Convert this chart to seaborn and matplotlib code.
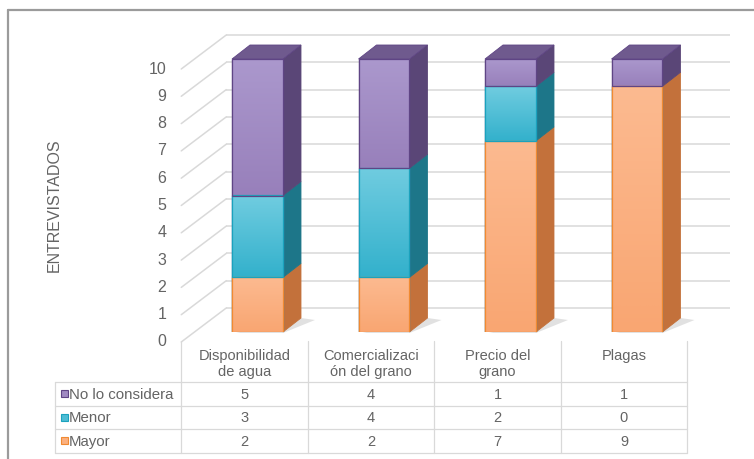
import numpy as np
import pandas as pd
import matplotlib
matplotlib.use("Agg")
import matplotlib.pyplot as plt
from matplotlib.patches import Polygon, Rectangle
from matplotlib.colors import LinearSegmentedColormap
import seaborn as sns

# ---------------- data ----------------
categories = ["Disponibilidad de agua", "Comercialización del grano", "Precio del grano", "Plagas"]
header_labels = ["Disponibilidad\nde agua", "Comercializaci\nón del grano", "Precio del\ngrano", "Plagas"]
mayor = [2, 2, 7, 9]
menor = [3, 4, 2, 0]
no_considera = [5, 4, 1, 1]
y_ticks = list(range(0, 11))
y_label = "ENTREVISTADOS"
table_rows = ["No lo considera", "Menor", "Mayor"]

# ---------------- style ----------------
sns.set_theme(style="white")
plt.rcParams["font.family"] = ["Liberation Sans", "DejaVu Sans"]

styles = {
    "Mayor": dict(face="#fbb07f", light="#fcba90", dark="#f9a672", edge="#f08a32",
                  side="#c3713b", top="#d98a50"),
    "Menor": dict(face="#4dbcd4", light="#70cce0", dark="#33b1cc", edge="#1ba2bd",
                  side="#1d7689", top="#2a95ab"),
    "No lo considera": dict(face="#a08ac2", light="#ab98cd", dark="#9880bb", edge="#5f4585",
                            side="#5a4677", top="#6f5a8e"),
}
TXT = "#646464"
GRID = "#d9d9d9"

W, H = 754, 460
fig = plt.figure(figsize=(W / 100, H / 100), dpi=100)

bg = fig.add_axes([0, 0, 1, 1], zorder=0)
bg.set_xlim(0, W)
bg.set_ylim(H, 0)
bg.axis("off")

ax = fig.add_axes([194.25 / W, (H - 333) / H, 506 / W, 273 / H], zorder=1)
ax.patch.set_visible(False)

# stacking (bottom -> top)
stack_order = [("Mayor", mayor), ("Menor", menor), ("No lo considera", no_considera)]
bottoms, tops = {}, {}
cum = np.zeros(len(categories))
for name, vals in stack_order:
    bottoms[name] = cum.copy()
    cum = cum + np.array(vals, dtype=float)
    tops[name] = cum.copy()

# front faces through seaborn (draw cumulative totals, top series first)
patches = {}
for name, vals in reversed(stack_order):
    df = pd.DataFrame({"cat": categories, "top": tops[name]})
    n0 = len(ax.patches)
    sns.barplot(data=df, x="cat", y="top", color=styles[name]["face"], saturation=1,
                width=0.403, edgecolor=styles[name]["edge"], linewidth=0.9,
                errorbar=None, ax=ax)
    patches[name] = ax.patches[n0:n0 + len(categories)]

# vertical shading on each visible segment of the front faces
grad = np.linspace(0, 1, 64).reshape(-1, 1)
for name, vals in stack_order:
    cmap = LinearSegmentedColormap.from_list(name, [styles[name]["dark"], styles[name]["light"]])
    for i, p in enumerate(patches[name]):
        if vals[i] <= 0:
            continue
        x0 = p.get_x()
        x1 = x0 + p.get_width()
        ax.imshow(grad, extent=[x0, x1, bottoms[name][i], tops[name][i]], origin="lower",
                  cmap=cmap, aspect="auto", interpolation="bilinear", zorder=2)
        ax.add_patch(Rectangle((x0, bottoms[name][i]), x1 - x0, vals[i], fill=False,
                               edgecolor=styles[name]["edge"], lw=0.9, zorder=3))

ax.set_xlim(-0.5, 3.5)
ax.set_ylim(0, 10)
ax.axis("off")


def to_px(x, y):
    X, Y = ax.transData.transform((x, y))
    return X, H - Y


BAR_BACK = (18, -14)
WALL = (32, -24)
FRONT = (-13, 10)

# ---- walls ----
xl_px, _ = to_px(-0.5, 0)
xr_px, _ = to_px(3.5, 0)
for v in y_ticks:
    _, yv = to_px(0, v)
    bg.plot([xl_px + WALL[0], xr_px + WALL[0] - 2], [yv + WALL[1]] * 2,
            color=GRID, lw=1.1, zorder=1, solid_capstyle="butt")
    bg.plot([xl_px + FRONT[0], xl_px + WALL[0]], [yv + FRONT[1], yv + WALL[1]],
            color=GRID, lw=1.1, zorder=1)
    bg.text(xl_px - 28, yv + 9, str(v), ha="right", va="center", fontsize=11.5, color=TXT)

bg.text(54, 205, y_label, rotation=90, ha="center", va="center", fontsize=11.5, color=TXT)

# ---- 3D side / top faces and shadows ----
dx, dy = BAR_BACK
for i in range(len(categories)):
    p = patches["Mayor"][i]
    x0 = p.get_x()
    x1 = x0 + p.get_width()
    X0, Yb = to_px(x0, 0)
    X1, _ = to_px(x1, 0)
    shadow = Polygon([(X0 + 4, Yb + 1), (X1, Yb + 1), (X1 + dx + 14, Yb + dy + 2),
                      (X1 + dx, Yb + dy)], closed=True, facecolor="#bdbdbd",
                     edgecolor="none", alpha=0.45, zorder=2)
    bg.add_patch(shadow)
    top_name = None
    for name, vals in stack_order:
        if vals[i] <= 0:
            continue
        top_name = name
        _, yb = to_px(x1, bottoms[name][i])
        _, yt = to_px(x1, tops[name][i])
        side = Polygon([(X1, yb), (X1, yt), (X1 + dx, yt + dy), (X1 + dx, yb + dy)],
                       closed=True, facecolor=styles[name]["side"],
                       edgecolor=styles[name]["side"], lw=0.6, zorder=3)
        bg.add_patch(side)
    if top_name is not None:
        _, yt = to_px(x1, tops[top_name][i])
        top = Polygon([(X0, yt), (X1, yt), (X1 + dx, yt + dy), (X0 + dx, yt + dy)],
                      closed=True, facecolor=styles[top_name]["top"],
                      edgecolor=styles[top_name]["edge"], lw=0.6, zorder=3)
        bg.add_patch(top)

# ---- data table ----
col_edges = [to_px(i - 0.5, 0)[0] + FRONT[0] for i in range(len(categories) + 1)]
row_edges = [383, 407, 430, 454]
table_left = 55
for xe in col_edges:
    bg.plot([xe, xe], [342, row_edges[-1]], color=GRID, lw=0.9, zorder=1)
bg.plot([table_left, table_left], [row_edges[0], row_edges[-1]], color=GRID, lw=0.9, zorder=1)
for ye in row_edges:
    bg.plot([table_left, col_edges[-1]], [ye, ye], color=GRID, lw=0.9, zorder=1)

for i, lab in enumerate(header_labels):
    cx = (col_edges[i] + col_edges[i + 1]) / 2
    bg.text(cx, 349, lab, ha="center", va="top", fontsize=10.5, color=TXT, linespacing=1.2)

series_vals = {"No lo considera": no_considera, "Menor": menor, "Mayor": mayor}
for r, name in enumerate(table_rows):
    cy = (row_edges[r] + row_edges[r + 1]) / 2
    bg.add_patch(Rectangle((61, cy - 4), 7, 7, facecolor=styles[name]["face"],
                           edgecolor=styles[name]["edge"], lw=0.8, zorder=3))
    bg.text(69, cy, name, ha="left", va="center", fontsize=10.8, color=TXT)
    for i, v in enumerate(series_vals[name]):
        cx = (col_edges[i] + col_edges[i + 1]) / 2
        bg.text(cx, cy, str(v), ha="center", va="center", fontsize=10.5, color=TXT)

# ---- outer frame ----
bg.plot([8, W], [11, 11], color="#9b9b9b", lw=1.6, zorder=5)
bg.plot([8, 8], [11, H], color="#9b9b9b", lw=1.6, zorder=5)

fig.savefig("out.png", dpi=100)
